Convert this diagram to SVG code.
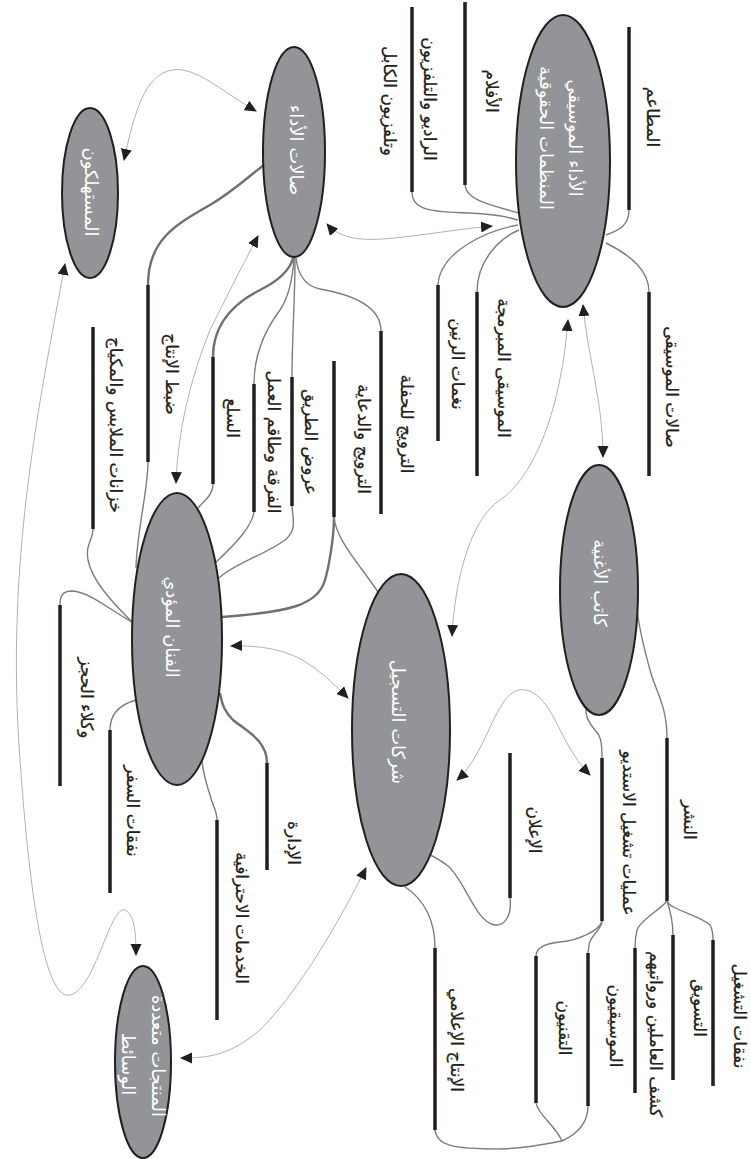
<svg xmlns="http://www.w3.org/2000/svg" width="751" height="1159" viewBox="0 0 751 1159">
<defs>
<marker id="ah" viewBox="0 0 12 12" refX="11" refY="6" markerWidth="12" markerHeight="12" markerUnits="userSpaceOnUse" orient="auto-start-reverse"><path d="M0,0.5 L12,6 L0,11.5 Z" fill="#231f20"/></marker>
<style>
.node{fill:#929497;stroke:#231f20;stroke-width:2}
.nt{font-family:"DejaVu Sans",sans-serif;font-size:18px;fill:#ffffff;text-anchor:middle}
.lt{font-family:"DejaVu Sans",sans-serif;font-size:17px;fill:#231f20;text-anchor:middle;stroke:#231f20;stroke-width:0.25}
.bar{stroke:#231f20;stroke-width:3.5;fill:none}
.c{fill:none;stroke:#7d7d7d;stroke-width:1.4}
.ck{fill:none;stroke:#707070;stroke-width:2.4}
.a{fill:none;stroke:#a8a8a8;stroke-width:0.9;marker-start:url(#ah);marker-end:url(#ah)}
</style>
</defs>
<rect width="751" height="1159" fill="#ffffff"/>

<g id="connectors">
<path class="c" d="M629,210 C629,225 620,230 606,235"/>
<path class="c" d="M465,185 C466,200 490,205 519,213"/>
<path class="c" d="M412,192 C412,210 430,212 470,213 C495,214 508,217 518,220"/>
<path class="c" d="M649,292 C649,270 630,255 606,243"/>
<path class="c" d="M477,292 C477,260 500,238 519,230"/>
<path class="c" d="M438,285 C440,250 490,230 518,225"/>
<path class="c" d="M381,331 C381,310 360,296 320,289 C305,286 298,275 296,258"/>
<path class="ck" d="M334,517 C334,540 328,570 325,580 C318,605 290,612 222,617"/>
<path class="c" d="M334,517 C336,540 360,565 378,592"/>
<path class="c" d="M292,377 C292,340 295,300 295,258"/>
<path class="c" d="M292,506 C293,520 297,530 285,540 C265,555 235,563 219,578"/>
<path class="c" d="M254,384 C254,355 265,330 280,310 C290,295 293,275 294,258"/>
<path class="c" d="M254,512 C252,525 240,540 213,565"/>
<path class="ck" d="M213,357 C213,320 240,300 260,290 C280,280 290,270 293,258"/>
<path class="c" d="M213,484 C213,495 205,500 198,508"/>
<path class="ck" d="M148,285 C148,240 175,225 210,205 C235,190 250,175 264,165"/>
<path class="c" d="M148,462 C148,490 137,530 136,568"/>
<path class="c" d="M93,529 C93,540 85,545 88,560 C92,580 110,600 132,622"/>
<path class="c" d="M60,605 C60,595 63,591 72,591 C90,592 110,610 132,622"/>
<path class="c" d="M110,730 C110,715 118,705 136,700"/>
<path class="c" d="M217,820 C217,810 212,805 210,795 C205,780 203,770 202,761"/>
<path class="ck" d="M267,763 C267,740 245,730 233,720 C225,712 222,705 220,693"/>
<path class="c" d="M667,738 C667,705 655,690 650,670 C643,645 639,625 637,611"/>
<path class="c" d="M602,758 C602,740 600,735 595,730 C588,722 585,715 586,708"/>
<path class="c" d="M510,898 C512,915 505,926 495,925 C475,922 465,880 448,866 C440,860 435,857 430,855"/>
<path class="c" d="M435,948 C435,920 425,900 404,886"/>
<path class="c" d="M435,1130 C437,1145 450,1149 500,1149 C530,1148 550,1143 562,1141"/>
<path class="c" d="M667,901 C670,910 700,915 710,925 C713,930 713,935 713,940"/>
<path class="c" d="M667,901 C670,910 673,920 673,935"/>
<path class="c" d="M667,901 C660,910 640,920 637,930 C635,938 635,943 635,948"/>
<path class="c" d="M602,921 C602,930 590,935 589,945 L588,953"/>
<path class="c" d="M602,921 C600,930 580,940 560,942 C540,944 536,950 536,956"/>
<path class="c" d="M536,1103 C538,1115 555,1125 562,1141"/>
<path class="c" d="M588,1106 C588,1125 575,1135 562,1141"/>

<path class="a" d="M124,160 C135,110 145,75 172,70 C195,66 220,90 256,111"/>
<path class="a" d="M65,264 C40,400 5,560 20,760 C30,900 45,1000 70,995 C95,990 110,905 125,910 C135,915 136,935 136,955"/>
<path class="a" d="M327,224 C345,245 380,240 420,235 C450,231 470,228 492,226"/>
<path class="a" d="M258,236 C240,270 225,300 210,330 C190,380 178,430 176,483"/>
<path class="a" d="M583,305 C588,360 603,400 603,457"/>
<path class="a" d="M568,320 C560,420 530,480 500,500 C470,520 455,580 452,636"/>
<path class="a" d="M457,780 C480,760 490,720 505,700 C520,680 540,690 555,720 C565,740 575,760 590,775"/>
<path class="a" d="M231,646 C260,645 290,650 310,665 C325,675 338,688 348,698"/>
<path class="a" d="M366,868 C340,920 300,990 260,1030 C230,1055 210,1058 181,1058"/>
</g>

<g id="n-consumers"><ellipse class="node" cx="90" cy="193" rx="28" ry="85"/><text class="nt" x="85" y="192" transform="rotate(90 85 192)">المستهلكون</text></g>
<g id="n-venues"><ellipse class="node" cx="294" cy="152" rx="31" ry="105"/><text class="nt" x="290" y="150" transform="rotate(90 290 150)">صالات الأداء</text></g>
<g id="n-rights"><ellipse class="node" cx="563" cy="161" rx="47" ry="146"/><text class="nt" x="569" y="138" transform="rotate(90 569 138)">الأداء الموسيقي</text><text class="nt" x="540" y="138" transform="rotate(90 540 138)">المنظمات الحقوقية</text></g>
<g id="n-songwriter"><ellipse class="node" cx="599" cy="590" rx="39" ry="125"/><text class="nt" x="594" y="583" transform="rotate(90 594 583)">كاتب الأغنية</text></g>
<g id="n-artist"><ellipse class="node" cx="177" cy="639" rx="45" ry="146"/><text class="nt" x="166" y="627" transform="rotate(90 166 627)">الفنان المؤدي</text></g>
<g id="n-labels"><ellipse class="node" cx="401" cy="730" rx="49" ry="156"/><text class="nt" x="392" y="722" transform="rotate(90 392 722)">شركات التسجيل</text></g>
<g id="n-multimedia"><ellipse class="node" cx="143" cy="1062" rx="28" ry="96"/><text class="nt" x="152" y="1056" transform="rotate(90 152 1056)">المنتجات متعددة</text><text class="nt" x="122" y="1064" transform="rotate(90 122 1064)">الوسائط</text></g>

<g id="l-restaurants"><line class="bar" x1="629" y1="27" x2="629" y2="210"/><text class="lt" x="647" y="117" transform="rotate(90 647 117)">المطاعم</text></g>
<g id="l-films"><line class="bar" x1="465" y1="2" x2="465" y2="185"/><text class="lt" x="486" y="91" transform="rotate(90 486 91)">الأفلام</text></g>
<g id="l-radio"><line class="bar" x1="412" y1="7" x2="412" y2="192"/><text class="lt" x="424" y="99" transform="rotate(90 424 99)">الراديو والتلفزيون</text><text class="lt" x="384" y="101" transform="rotate(90 384 101)">وتلفزيون الكابل</text></g>
<g id="l-musichalls"><line class="bar" x1="649" y1="292" x2="649" y2="476"/><text class="lt" x="666" y="387" transform="rotate(90 666 387)">صالات الموسيقى</text></g>
<g id="l-programmed"><line class="bar" x1="477" y1="292" x2="477" y2="476"/><text class="lt" x="498" y="368" transform="rotate(90 498 368)">الموسيقى المبرمجة</text></g>
<g id="l-ringtones"><line class="bar" x1="438" y1="285" x2="438" y2="441"/><text class="lt" x="452" y="364" transform="rotate(90 452 364)">نغمات الرنين</text></g>
<g id="l-concertpromo"><line class="bar" x1="381" y1="331" x2="381" y2="514"/><text class="lt" x="401" y="424" transform="rotate(90 401 424)">الترويج للحفلة</text></g>
<g id="l-promo"><line class="bar" x1="334" y1="361" x2="334" y2="517"/><text class="lt" x="358" y="439" transform="rotate(90 358 439)">الترويج والدعاية</text></g>
<g id="l-street"><line class="bar" x1="292" y1="377" x2="292" y2="506"/><text class="lt" x="305" y="442" transform="rotate(90 305 442)">عروض الطريق</text></g>
<g id="l-band"><line class="bar" x1="254" y1="384" x2="254" y2="512"/><text class="lt" x="268" y="442" transform="rotate(90 268 442)">الفرقة وطاقم العمل</text></g>
<g id="l-merch"><line class="bar" x1="213" y1="357" x2="213" y2="484"/><text class="lt" x="227" y="418" transform="rotate(90 227 418)">السلع</text></g>
<g id="l-production"><line class="bar" x1="148" y1="285" x2="148" y2="462"/><text class="lt" x="166" y="374" transform="rotate(90 166 374)">ضبط الإنتاج</text></g>
<g id="l-wardrobe"><line class="bar" x1="93" y1="327" x2="93" y2="529"/><text class="lt" x="110" y="425" transform="rotate(90 110 425)">خزانات الملابس والمكياج</text></g>
<g id="l-booking"><line class="bar" x1="60" y1="605" x2="60" y2="786"/><text class="lt" x="81" y="698" transform="rotate(90 81 698)">وكلاء الحجز</text></g>
<g id="l-travel"><line class="bar" x1="110" y1="730" x2="110" y2="893"/><text class="lt" x="127" y="811" transform="rotate(90 127 811)">نفقات السفر</text></g>
<g id="l-professional"><line class="bar" x1="217" y1="820" x2="217" y2="1020"/><text class="lt" x="236" y="918" transform="rotate(90 236 918)">الخدمات الاحترافية</text></g>
<g id="l-management"><line class="bar" x1="267" y1="763" x2="267" y2="870"/><text class="lt" x="288" y="843" transform="rotate(90 288 843)">الإدارة</text></g>
<g id="l-publishing"><line class="bar" x1="667" y1="738" x2="667" y2="901"/><text class="lt" x="684" y="820" transform="rotate(90 684 820)">النشر</text></g>
<g id="l-studio"><line class="bar" x1="602" y1="758" x2="602" y2="921"/><text class="lt" x="623" y="833" transform="rotate(90 623 833)">عمليات تشغيل الاستديو</text></g>
<g id="l-advertising"><line class="bar" x1="510" y1="753" x2="510" y2="898"/><text class="lt" x="529" y="830" transform="rotate(90 529 830)">الإعلان</text></g>
<g id="l-media"><line class="bar" x1="435" y1="948" x2="435" y2="1130"/><text class="lt" x="451" y="1040" transform="rotate(90 451 1040)">الإنتاج الإعلامي</text></g>
<g id="l-technicians"><line class="bar" x1="536" y1="956" x2="536" y2="1103"/><text class="lt" x="559" y="1028" transform="rotate(90 559 1028)">التقنيون</text></g>
<g id="l-musicians"><line class="bar" x1="588" y1="953" x2="588" y2="1106"/><text class="lt" x="610" y="1026" transform="rotate(90 610 1026)">الموسيقيون</text></g>
<g id="l-opex"><line class="bar" x1="713" y1="940" x2="713" y2="1086"/><text class="lt" x="734" y="1016" transform="rotate(90 734 1016)">نفقات التشغيل</text></g>
<g id="l-marketing"><line class="bar" x1="673" y1="935" x2="673" y2="1080"/><text class="lt" x="694" y="1008" transform="rotate(90 694 1008)">التسويق</text></g>
<g id="l-payroll"><line class="bar" x1="635" y1="948" x2="635" y2="1093"/><text class="lt" x="650" y="1034" transform="rotate(90 650 1034)">كشف العاملين ورواتبهم</text></g>
</svg>
